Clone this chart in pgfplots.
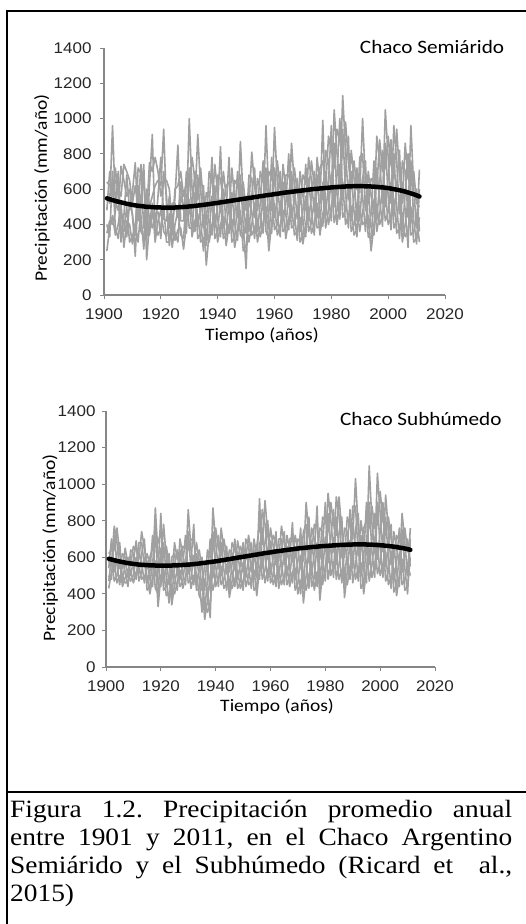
\documentclass[border=0pt]{standalone}
\usepackage{fontspec}
\setmainfont{Liberation Serif}[FakeStretch=1.1]
\newfontfamily\calibri{Carlito}[FakeStretch=1.12]
\newfontfamily\arialf{Liberation Sans}[FakeStretch=1.1]
\usepackage{pgfplots}
\pgfplotsset{compat=1.18}
\usepackage{pgfplotstable}

\definecolor{lg}{RGB}{160,160,160}
\definecolor{axg}{RGB}{134,134,134}

\pgfplotstableread{
yr a b c d e f t
1901 640 560 480 400 350 250 548
1902 620 520 700 330 420 380 543
1903 600 960 560 700 400 450 538
1904 650 520 720 380 470 340 533
1905 600 480 560 320 700 400 529
1906 560 730 300 470 380 520 525
1907 740 650 450 420 360 270 521
1908 700 560 680 330 500 420 517
1909 650 600 480 520 300 400 514
1910 520 450 580 460 330 290 511
1911 620 340 750 220 400 380 508
1912 480 720 420 580 300 620 506
1913 740 690 560 450 500 360 504
1914 620 380 700 260 740 330 502
1915 450 600 300 560 200 480 500
1916 750 500 620 430 400 340 499
1917 700 560 910 380 520 470 498
1918 780 620 350 460 300 390 497
1919 700 650 560 470 420 340 496
1920 560 620 780 320 480 380 496
1921 640 940 430 700 360 500 495
1922 650 500 420 560 330 300 495
1923 600 380 560 280 460 300 495
1924 380 520 340 450 270 420 495
1925 600 520 560 350 400 310 496
1926 620 440 850 300 480 370 497
1927 700 640 420 560 340 380 498
1928 560 480 420 500 320 260 499
1929 640 450 700 350 560 400 500
1930 620 1000 460 720 380 540 502
1931 780 600 500 440 380 330 503
1932 650 520 700 360 580 420 505
1933 540 910 400 680 320 460 507
1934 720 600 480 420 350 300 509
1935 520 380 620 250 440 320 511
1936 400 580 280 460 170 340 513
1937 700 560 500 420 350 300 515
1938 640 480 780 340 560 400 518
1939 520 740 380 620 320 460 520
1940 680 580 500 430 360 300 522
1941 660 470 840 330 540 400 525
1942 520 700 380 600 320 440 527
1943 620 560 480 400 340 280 530
1944 640 460 780 350 540 400 532
1945 500 720 360 580 300 430 535
1946 650 540 460 400 330 270 537
1947 620 440 700 310 520 370 540
1948 560 870 400 680 340 480 542
1949 640 540 460 390 320 250 545
1950 480 350 560 150 420 280 547
1951 500 680 360 580 300 430 550
1952 810 660 560 470 400 340 552
1953 620 440 720 320 520 380 555
1954 480 660 360 560 300 420 557
1955 700 600 520 450 390 330 560
1956 640 480 760 350 560 410 562
1957 600 960 430 720 360 500 565
1958 700 560 460 380 320 250 567
1959 660 480 780 350 560 410 569
1960 620 950 440 720 370 520 572
1961 760 640 540 460 400 340 574
1962 600 450 700 330 520 390 576
1963 560 740 420 640 360 480 579
1964 680 600 520 450 380 320 581
1965 680 500 800 370 580 430 583
1966 600 860 440 700 380 510 585
1967 720 620 540 460 400 340 587
1968 580 430 660 310 500 360 589
1969 520 700 360 600 300 440 591
1970 680 560 480 400 340 290 593
1971 640 480 740 330 560 400 595
1972 580 780 420 660 360 500 597
1973 760 650 560 480 410 350 599
1974 620 470 700 340 540 400 601
1975 600 780 440 680 380 520 602
1976 720 620 520 440 390 340 604
1977 760 540 990 390 640 460 605
1978 600 820 450 700 380 520 607
1979 900 760 640 560 480 400 608
1980 820 580 960 420 680 500 610
1981 720 1050 500 860 410 600 611
1982 940 800 680 570 480 400 612
1983 880 620 1000 430 740 520 613
1984 780 1130 540 940 440 640 614
1985 980 820 700 580 480 400 615
1986 760 540 900 380 640 450 616
1987 600 820 420 700 360 500 616
1988 760 660 560 470 400 340 617
1989 600 420 720 330 500 370 617
1990 580 780 420 680 360 490 617
1991 1000 800 660 560 470 400 617
1992 640 480 760 360 560 420 616
1993 520 700 380 600 330 450 616
1994 660 560 460 380 320 250 615
1995 640 460 760 340 540 400 614
1996 600 900 420 720 360 500 613
1997 880 760 640 540 460 400 611
1998 700 520 820 390 600 450 610
1999 720 1050 500 860 420 600 608
2000 900 780 660 560 470 400 606
2001 740 520 880 370 620 440 603
2002 660 960 450 800 380 540 600
2003 940 760 620 500 420 350 597
2004 680 460 820 320 560 380 594
2005 520 760 360 640 300 440 590
2006 860 700 580 480 400 330 586
2007 660 440 800 270 540 360 581
2008 620 960 410 760 340 500 576
2009 700 600 500 420 360 300 571
2010 520 380 600 290 440 320 565
2011 500 710 360 600 300 440 558
}\semi

\pgfplotstableread{
yr a b c d e f t
1901 620 580 540 500 470 430 592
1902 640 560 700 480 600 520 588
1903 640 770 520 720 470 580 584
1904 760 680 620 560 500 460 580
1905 620 540 680 450 580 500 577
1906 540 620 470 580 440 500 574
1907 650 600 560 520 490 460 571
1908 560 490 600 440 520 460 568
1909 560 640 500 600 470 530 566
1910 660 620 580 540 500 460 564
1911 640 560 690 480 600 520 562
1912 590 680 510 630 470 550 560
1913 740 680 620 570 520 480 559
1914 650 550 700 460 600 500 558
1915 540 620 460 580 420 500 557
1916 600 560 520 480 440 400 556
1917 650 540 720 440 590 490 556
1918 660 870 500 760 430 580 555
1919 680 600 520 450 400 330 555
1920 740 570 840 440 650 500 555
1921 600 780 480 680 420 540 555
1922 660 600 540 490 440 390 555
1923 560 450 620 350 500 400 555
1924 480 600 380 540 340 430 555
1925 680 620 560 500 450 400 556
1926 590 500 640 420 540 460 556
1927 580 700 480 640 440 530 557
1928 660 610 560 510 470 430 558
1929 650 540 720 450 590 490 559
1930 640 860 510 740 460 570 560
1931 700 640 580 530 480 430 561
1932 690 550 780 450 610 500 563
1933 560 680 460 620 420 510 564
1934 640 580 530 480 430 390 566
1935 540 420 600 300 480 360 568
1936 420 560 300 480 260 360 570
1937 640 560 480 420 360 300 572
1938 600 420 700 270 500 340 574
1939 640 870 490 740 420 560 576
1940 760 680 610 550 490 440 578
1941 650 540 720 440 590 490 580
1942 610 760 500 680 450 550 583
1943 700 640 580 530 480 430 585
1944 610 510 660 420 560 460 588
1945 520 640 420 580 380 470 590
1946 680 620 570 520 470 430 593
1947 640 530 700 440 580 480 595
1948 580 690 480 630 430 530 598
1949 660 610 560 510 470 430 600
1950 620 520 680 420 570 470 603
1951 590 700 490 640 440 540 605
1952 720 660 600 550 500 450 608
1953 620 520 680 430 570 470 610
1954 580 700 480 640 420 530 613
1955 660 600 540 490 440 390 615
1956 780 600 920 480 680 540 618
1957 670 860 540 760 480 600 620
1958 910 780 680 600 530 460 623
1959 720 590 800 470 650 530 625
1960 630 760 510 690 460 570 627
1961 720 660 600 550 500 450 630
1962 680 560 740 440 620 500 632
1963 580 700 480 640 430 530 634
1964 770 700 630 570 510 450 636
1965 680 560 740 450 620 500 638
1966 600 720 500 660 450 550 640
1967 700 640 590 540 490 440 642
1968 710 580 790 460 640 520 644
1969 600 720 480 660 420 540 646
1970 700 640 580 520 460 400 648
1971 680 540 760 400 610 470 650
1972 580 740 430 660 350 500 651
1973 900 780 670 580 500 420 653
1974 720 570 820 430 640 500 654
1975 620 760 500 690 440 560 656
1976 780 700 630 560 490 420 657
1977 770 600 880 440 680 520 658
1978 590 760 440 670 365 520 660
1979 820 740 660 590 520 450 661
1980 800 630 900 470 710 550 662
1981 740 950 570 840 480 650 663
1982 900 800 710 640 570 500 664
1983 780 630 860 490 700 560 665
1984 720 930 560 820 480 640 666
1985 930 830 730 640 560 480 667
1986 740 600 820 460 670 530 668
1987 600 760 450 680 380 520 668
1988 820 740 660 590 520 450 669
1989 770 620 860 480 690 550 669
1990 700 880 540 790 460 620 670
1991 1030 880 750 650 560 480 670
1992 760 610 840 470 680 540 670
1993 640 800 500 720 430 570 670
1994 760 680 600 530 460 400 670
1995 800 620 900 460 700 540 670
1996 760 1100 560 900 470 650 669
1997 880 790 700 630 560 490 669
1998 760 620 840 490 690 550 668
1999 780 1060 590 900 510 680 667
2000 960 840 740 650 570 500 666
2001 800 630 900 490 710 560 665
2002 720 940 550 820 470 630 663
2003 820 740 660 590 520 450 662
2004 700 560 780 430 630 490 660
2005 600 740 470 670 410 540 658
2006 720 650 580 510 450 390 656
2007 690 560 760 440 620 500 653
2008 670 840 520 750 450 590 651
2009 760 680 610 540 480 420 648
2010 630 500 700 400 560 440 645
2011 640 760 550 700 500 600 641
}\subh

\pgfplotsset{chaco/.style={
  scale only axis,
  axis lines=left,
  axis line style={axg, line width=1.2bp, -},
  xmin=1900, xmax=2020, ymin=0, ymax=1400,
  xtick={1900,1920,...,2020}, ytick={0,200,...,1400},
  tick style={axg, line width=1bp},
  tick align=outside,
  major tick length=4bp,
  xticklabel shift=6bp,
  yticklabel shift=5bp,
  /pgf/number format/1000 sep={},
  /pgf/number format/assume math mode=true,
  ticklabel style={font=\arialf\fontsize{15.5}{15.5}\selectfont, text=black!85},
  label style={font=\calibri\fontsize{17.5}{17.5}\selectfont},
  clip=false,
  no markers,
  xlabel={Tiempo (años)},
  ylabel={Precipitación (mm/año)},
}}

\begin{document}
\begin{tikzpicture}
\useasboundingbox (0,0) rectangle (526bp,-924bp);
\fill[white] (0,0) rectangle (526bp,-924bp);
\draw[line width=2bp, black] (7bp,-924bp) -- (7bp,-11bp) -- (526bp,-11bp);
\draw[line width=2bp, black] (7bp,-792bp) -- (526bp,-792bp);

\begin{axis}[chaco, at={(104bp,-295bp)}, anchor=south west,
  width=341bp, height=247bp,
  xlabel style={at={(axis description cs:0.463,-0.166)}, anchor=center},
  ylabel style={at={(axis description cs:-0.182,0.433)}, anchor=center}]
\pgfplotsinvokeforeach{a,b,c,d,e,f}{
  \addplot[lg, line width=1.6bp, line join=round] table[x=yr, y=#1] {\semi};
}
\addplot[black, line width=4.5bp, line cap=round] table[x=yr, y=t] {\semi};
\node[font=\calibri\fontsize{19}{19}\selectfont, anchor=center] at (axis description cs:0.962,1.004) {Chaco Semiárido};
\end{axis}

\begin{axis}[chaco, at={(106bp,-667bp)}, anchor=south west,
  width=329bp, height=256bp, yticklabel shift=3bp,
  xlabel style={at={(axis description cs:0.52,-0.156)}, anchor=center},
  ylabel style={at={(axis description cs:-0.17,0.465)}, anchor=center}]
\pgfplotsinvokeforeach{a,b,c,d,e,f}{
  \addplot[lg, line width=1.6bp, line join=round] table[x=yr, y=#1] {\subh};
}
\addplot[black, line width=4.5bp, line cap=round] table[x=yr, y=t] {\subh};
\node[font=\calibri\fontsize{19}{19}\selectfont, anchor=center] at (axis description cs:0.957,0.969) {Chaco Subhúmedo};
\end{axis}

\node[anchor=north west, inner sep=0pt, text width=502bp, align=justify,
  font=\fontsize{25}{28.3}\selectfont] at (10bp,-799.5bp)
  {\frenchspacing\tolerance=10000 \hyphenpenalty=10000 Figura 1.2. Precipitación promedio anual\linebreak entre 1901 y 2011, en el Chaco Argentino\linebreak Semiárido y el Subhúmedo (Ricard et~ al.,\linebreak 2015)};
\end{tikzpicture}
\end{document}
